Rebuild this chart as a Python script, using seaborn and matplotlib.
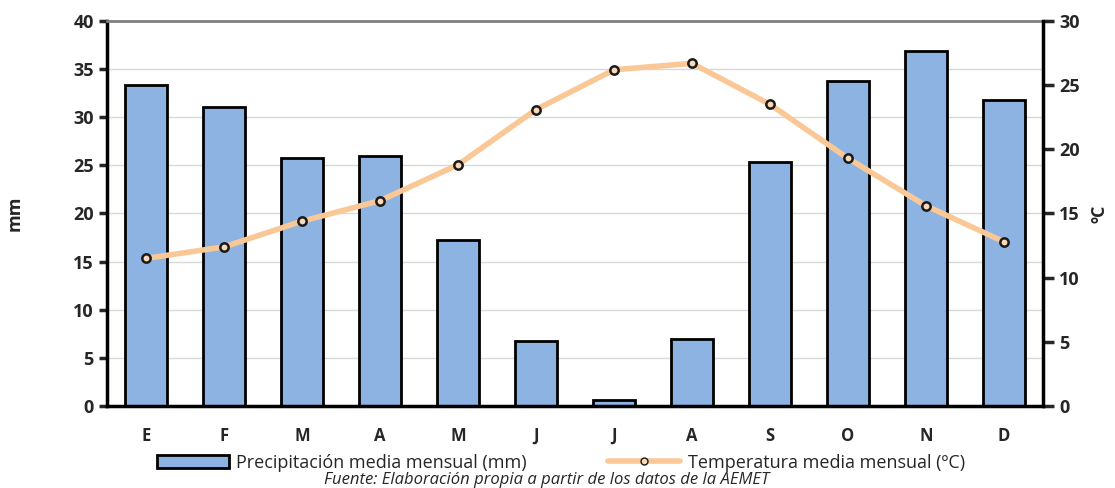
import numpy as np
import pandas as pd
import matplotlib
matplotlib.use("Agg")
import matplotlib.pyplot as plt
import seaborn as sns
from matplotlib.lines import Line2D
from matplotlib.patches import Patch

# Monthly data
months = ['E', 'F', 'M', 'A', 'M', 'J', 'J', 'A', 'S', 'O', 'N', 'D']
precip_mm = [33.4, 31.1, 25.8, 26.0, 17.2, 6.8, 0.6, 7.0, 25.4, 33.8, 36.9, 31.8]
temp_c = [11.5, 12.4, 14.4, 16.0, 18.8, 23.1, 26.2, 26.7, 23.5, 19.3, 15.6, 12.8]

sns.set_style("white")
plt.rcParams['font.family'] = ['Open Sans', 'DejaVu Sans']

df = pd.DataFrame({'mes': range(len(months)), 'precip': precip_mm, 'temp': temp_c})

fig = plt.figure(figsize=(11.15, 4.88), dpi=100)
ax = fig.add_axes([0.096, 0.168, 0.8394, 0.789])

sns.barplot(data=df, x='mes', y='precip', ax=ax, color='#8DB3E2', saturation=1,
            width=0.55, edgecolor='black', linewidth=2, zorder=2)
ax.set_xlim(-0.5, 11.5)
ax.set_ylim(0, 40)
ax.set_yticks(np.arange(0, 41, 5))
ax.yaxis.grid(True, color='#d9d9d9', linewidth=1, zorder=0)
ax.set_axisbelow(True)

# x ticks at category boundaries, labels at centers
ax.set_xticks(np.arange(-0.5, 12, 1))
ax.set_xticklabels([])
ax.set_xticks(range(12), minor=True)
ax.set_xticklabels(months, minor=True, fontweight='bold', fontsize=12)
ax.tick_params(axis='x', which='major', direction='inout', length=12, width=2.5)
ax.tick_params(axis='x', which='minor', length=0, pad=15)
ax.tick_params(axis='y', direction='out', length=6, width=2.5, labelsize=13)
for lab in ax.get_yticklabels():
    lab.set_fontweight('bold')
ax.set_xlabel('')
ax.set_ylabel('mm', fontweight='bold', fontsize=13, labelpad=36)

for side in ['left', 'bottom']:
    ax.spines[side].set_linewidth(2.5)
    ax.spines[side].set_color('black')
ax.spines['top'].set_color('#808080')
ax.spines['top'].set_linewidth(2)
ax.spines['right'].set_visible(False)

ax2 = ax.twinx()
sns.lineplot(data=df, x='mes', y='temp', ax=ax2, color='#FAC896', linewidth=4,
             marker='o', markersize=6, markerfacecolor='#F9D9B8',
             markeredgecolor='#1a1a1a', markeredgewidth=1.8, zorder=3)
ax2.set_ylim(0, 30)
ax2.set_yticks(np.arange(0, 31, 5))
ax2.tick_params(axis='y', direction='out', length=8, width=2.5, labelsize=13)
for lab in ax2.get_yticklabels():
    lab.set_fontweight('bold')
ax2.set_ylabel('ºC', fontweight='bold', fontsize=13, labelpad=8, rotation=90)
ax2.spines['right'].set_linewidth(2.5)
ax2.spines['right'].set_color('black')
for side in ['left', 'bottom', 'top']:
    ax2.spines[side].set_visible(False)
ax2.set_xlim(-0.5, 11.5)

handles = [Patch(facecolor='#8DB3E2', edgecolor='black', linewidth=2),
           Line2D([0], [0], color='#FAC896', linewidth=4, marker='o', markersize=5,
                  markerfacecolor='#F9D9B8', markeredgecolor='#1a1a1a')]
labels = ['Precipitación media mensual (mm)', 'Temperatura media mensual (ºC)']
fig.legend(handles, labels, loc='lower center', bbox_to_anchor=(0.503, 0.0), ncol=2,
           frameon=False, fontsize=13, handlelength=4, columnspacing=4.5, handletextpad=0.4)

fig.text(0.49, 0.0, 'Fuente: Elaboración propia a partir de los datos de la AEMET',
         ha='center', va='bottom', fontstyle='italic', fontsize=12)

fig.savefig('out.png', dpi=100)
